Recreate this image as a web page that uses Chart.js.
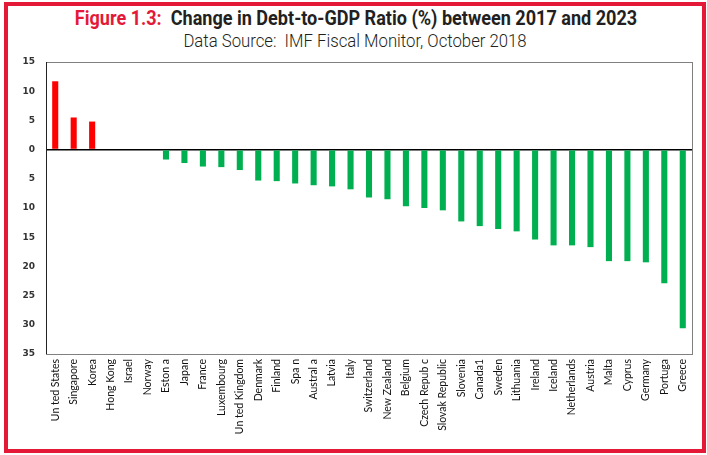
<!DOCTYPE html>
<html>
<head>
<meta charset="utf-8">
<script src="https://cdn.jsdelivr.net/npm/chart.js@4/dist/chart.umd.min.js"></script>
<style>
  html, body { margin: 0; padding: 0; background: #fff; }
  #wrap { position: relative; width: 707px; height: 455px; overflow: hidden; }
  #frame { position: absolute; left: 4px; top: 2px; width: 694px; height: 443px; border: 4px solid #e31937; }
  #title { position: absolute; left: 0; width: 712px; top: 6px; text-align: center;
           font-family: "Roboto", sans-serif; font-weight: bold; font-size: 21px; color: #231f20;
           transform: scaleX(0.86); transform-origin: 356px 0; white-space: nowrap; }
  #title span { color: #e31937; }
  #sub { position: absolute; left: 0; width: 710px; top: 29px; text-align: center;
         font-family: "Roboto", sans-serif; font-weight: 300; font-size: 19px; color: #231f20;
         transform: scaleX(0.88); transform-origin: 355px 0; white-space: nowrap; }
  canvas { position: absolute; left: 0; top: 0; }
</style>
</head>
<body>
<div id="wrap">
  <div id="frame"></div>
  <div id="title"><span>Figure 1.3:</span>&nbsp; Change in Debt-to-GDP Ratio (%) between 2017 and 2023</div>
  <div id="sub">Data Source:&nbsp; IMF Fiscal Monitor, October 2018</div>
  <canvas id="chart" width="707" height="455"></canvas>
</div>
<script>
// countries as printed on the chart
var countries = ['Un ted States', 'Singapore', 'Korea', 'Hong Kong', 'Israel', 'Norway', 'Eston a', 'Japan',
  'France', 'Luxembourg', 'Un ted Kingdom', 'Denmark', 'Finland', 'Spa n', 'Austral a', 'Latvia', 'Italy',
  'Switzerland', 'New Zealand', 'Belgium', 'Czech Repub c', 'Slovak Republic', 'Slovenia', 'Canada1',
  'Sweden', 'Lithuania', 'Ireland', 'Iceland', 'Netherlands', 'Austria', 'Malta', 'Cyprus', 'Germany',
  'Portuga', 'Greece'];

// change in debt-to-GDP ratio, percentage points
var change = [11.7, 5.5, 4.8, 0, 0, 0, -1.7, -2.3,
  -2.9, -3.0, -3.5, -5.3, -5.4, -5.8, -6.1, -6.3, -6.8,
  -8.2, -8.5, -9.7, -10.0, -10.4, -12.3, -13.1,
  -13.6, -14.0, -15.4, -16.4, -16.4, -16.7, -19.1, -19.1, -19.3,
  -22.9, -30.6];

var yMin = -35, yMax = 15, yStep = 5;

// box round the plot area
var boxPlugin = {
  id: 'box',
  afterDraw: function (chart) {
    var a = chart.chartArea, ctx = chart.ctx;
    ctx.save();
    ctx.strokeStyle = '#808080';
    ctx.lineWidth = 1;
    ctx.strokeRect(a.left + 0.5, a.top + 0.5, a.right - a.left, a.bottom - a.top);
    ctx.strokeStyle = '#222';
    ctx.beginPath();
    ctx.moveTo(a.left + 0.5, a.top);
    ctx.lineTo(a.left + 0.5, a.bottom);
    ctx.stroke();
    ctx.restore();
  }
};

new Chart(document.getElementById('chart'), {
  type: 'bar',
  data: {
    labels: countries,
    datasets: [{
      data: change,
      backgroundColor: change.map(v => v > 0 ? '#ff0000' : '#00b050'),
      barPercentage: 0.33,
      categoryPercentage: 1
    }]
  },
  options: {
    responsive: false,
    animation: false,
    layout: { padding: { top: 62, right: 15, left: 0, bottom: 0 } },
    plugins: { legend: { display: false }, tooltip: { enabled: false } },
    scales: {
      x: {
        grid: { display: false, drawTicks: false },
        border: { display: false },
        afterFit: function (scale) { scale.height = 101; },
        ticks: {
          autoSkip: false, maxRotation: 90, minRotation: 90, padding: 5,
          color: '#111',
          font: { family: 'Lato', size: 10.5 }
        }
      },
      y: {
        min: yMin, max: yMax,
        afterFit: function (scale) { scale.width = 46; },
        grid: {
          drawTicks: false,
          color: ctx => ctx.tick && ctx.tick.value === 0 ? '#000' : 'rgba(0,0,0,0)',
          lineWidth: ctx => ctx.tick && ctx.tick.value === 0 ? 1.6 : 0
        },
        border: { display: false },
        ticks: {
          stepSize: yStep, padding: 11,
          color: '#333',
          font: { family: 'DejaVu Sans', size: 9, weight: 'bold' },
          callback: v => Math.abs(v)
        }
      }
    }
  },
  plugins: [boxPlugin]
});
</script>
</body>
</html>
